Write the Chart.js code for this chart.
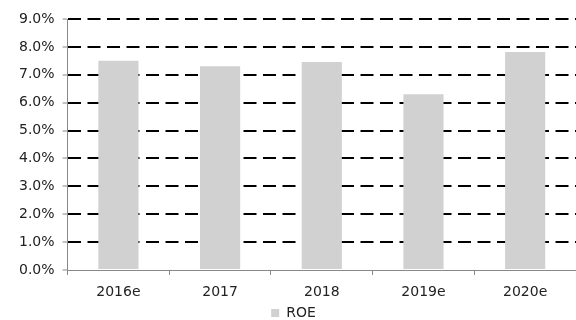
<!DOCTYPE html>
<html>
<head>
<meta charset="utf-8">
<script src="https://cdn.jsdelivr.net/npm/chart.js@4/dist/chart.umd.min.js"></script>
<style>
  body { margin: 0; background: #fff; }
  #wrap { width: 576px; height: 320px; }
</style>
</head>
<body>
<div id="wrap"><canvas id="roe_canvas" width="576" height="320"></canvas></div>
<script>
// chart data
var years = ["2016e", "2017", "2018", "2019e", "2020e"];
var roeValues = [7.50, 7.31, 7.46, 6.30, 7.82]; // percent
var seriesName = "ROE";

var fontFamily = "'DejaVu Sans', sans-serif";

var ctx = document.getElementById("roe_canvas").getContext("2d");
var roeChart = new Chart(ctx, {
    type: "bar",
    data: {
        labels: years,
        datasets: [{
            label: seriesName,
            data: roeValues,
            backgroundColor: "#d1d1d1",
            borderWidth: 0,
            categoryPercentage: 1.0,
            barPercentage: 0.395
        }]
    },
    options: {
        responsive: false,
        animation: false,
        // legend sits low, almost on the bottom edge
        layout: { padding: { top: 19, right: 0, left: 11, bottom: -10 } },
        plugins: {
            tooltip: { enabled: false },
            legend: {
                position: "bottom",
                labels: {
                    boxWidth: 8,
                    boxHeight: 8,
                    padding: 0,
                    color: "#222",
                    font: { family: fontFamily, size: 14 }
                }
            }
        },
        scales: {
            x: {
                offset: true,
                border: { color: "#888", width: 1 },
                grid: {
                    offset: true,
                    drawOnChartArea: false,
                    tickColor: "#888",
                    tickLength: 5
                },
                ticks: {
                    color: "#222",
                    padding: 9,
                    font: { family: fontFamily, size: 14 }
                },
                afterFit: function(scale) { scale.height = 36; }
            },
            y: {
                min: 0,
                max: 9,
                border: { color: "#888", width: 1, dash: [13, 6.5] },
                grid: {
                    color: function(c) { return c.tick && c.tick.value === 0 ? "rgba(0,0,0,0)" : "#000"; },
                    lineWidth: 2,
                    tickColor: "#888",
                    tickLength: 5,
                    tickWidth: 1,
                    tickBorderDash: []
                },
                ticks: {
                    stepSize: 1,
                    color: "#222",
                    padding: 8,
                    font: { family: fontFamily, size: 14 },
                    callback: function(v) { return v.toFixed(1) + "%"; }
                }
            }
        }
    }
});
</script>
</body>
</html>
